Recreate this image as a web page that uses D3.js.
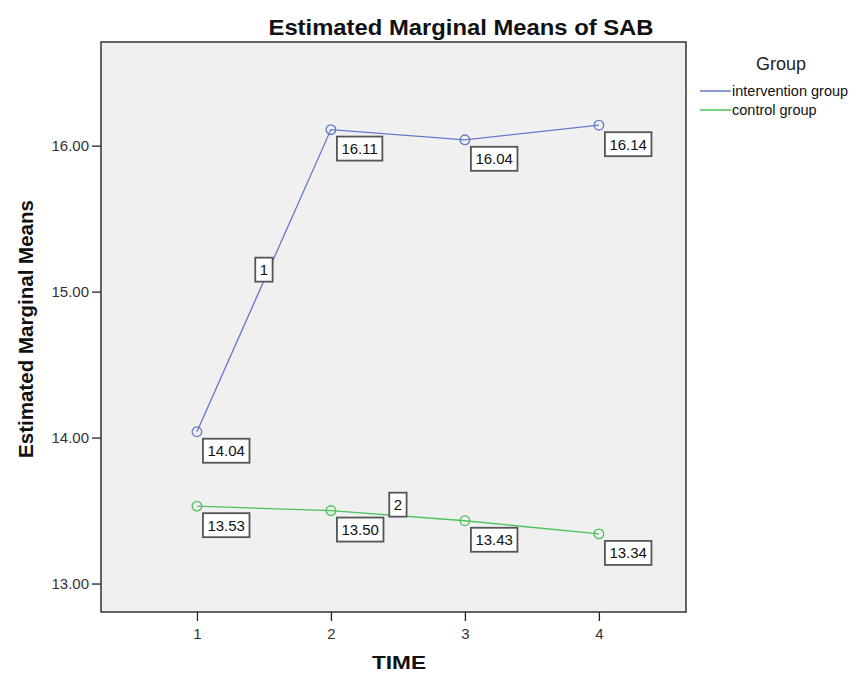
<!DOCTYPE html>
<html><head><meta charset="utf-8">
<script src="https://cdn.jsdelivr.net/npm/d3@7"></script>
<style>body{margin:0;background:#fff;} text{font-family:"Liberation Sans",Arial,sans-serif;}</style>
</head><body>
<svg id="c" width="865" height="674"></svg>
<script>
const times = [1, 2, 3, 4];
const yTicks = [13, 14, 15, 16];
const groups = ["intervention group", "control group"];
const intervention = [14.04, 16.11, 16.04, 16.14];
const control = [13.53, 13.50, 13.43, 13.34];
const colors = ["#6478c8", "#4cc25a"];

const svg = d3.select("#c");
const L = 101, R = 686, T = 42, B = 612;
const x = d3.scaleLinear().domain([0.284, 4.65]).range([L, R]);
const y = d3.scaleLinear().domain([12.805, 16.71]).range([B, T]);

svg.append("rect").attr("x", L).attr("y", T).attr("width", R - L).attr("height", B - T)
  .attr("fill", "#f0f0f0").attr("stroke", "#333").attr("stroke-width", 1.5);

// axes
const ya = svg.append("g").attr("transform", `translate(${L},0)`)
  .call(d3.axisLeft(y).tickValues(yTicks).tickFormat(d3.format(".2f")).tickSize(9).tickSizeOuter(0));
ya.select(".domain").remove();
ya.selectAll("line").attr("stroke", "#222").attr("stroke-width", 1.3);
ya.selectAll("text").attr("font-size", 15).attr("fill", "#333").attr("font-family", "Liberation Sans, Arial, sans-serif");

const xa = svg.append("g").attr("transform", `translate(0,${B})`)
  .call(d3.axisBottom(x).tickValues(times).tickFormat(d3.format("d")).tickSize(9).tickSizeOuter(0));
xa.select(".domain").remove();
xa.selectAll("line").attr("stroke", "#222").attr("stroke-width", 1.3);
xa.selectAll("text").attr("font-size", 15).attr("fill", "#333").attr("dy", "1.0em").attr("font-family", "Liberation Sans, Arial, sans-serif");

// titles
svg.append("text").attr("x", 461).attr("y", 35).attr("text-anchor", "middle")
  .attr("font-size", 22).attr("font-weight", "bold").attr("fill", "#111")
  .attr("textLength", 385).attr("lengthAdjust", "spacingAndGlyphs").text("Estimated Marginal Means of SAB");
svg.append("text").attr("transform", "translate(33,329) rotate(-90)").attr("text-anchor", "middle")
  .attr("font-size", 19.5).attr("font-weight", "bold").attr("fill", "#111")
  .attr("textLength", 258).attr("lengthAdjust", "spacingAndGlyphs").text("Estimated Marginal Means");
svg.append("text").attr("x", 399).attr("y", 669).attr("text-anchor", "middle")
  .attr("font-size", 18).attr("font-weight", "bold").attr("fill", "#111")
  .attr("textLength", 54).attr("lengthAdjust", "spacingAndGlyphs").text("TIME");

const series = [intervention, control];
const line = d3.line().x((d, i) => x(times[i])).y(d => y(d));

function box(cx, cy, txt, anchorLeft) {
  const g = svg.append("g");
  const t = g.append("text").attr("font-size", 15).attr("fill", "#111").text(txt);
  const w = t.node().getComputedTextLength();
  const pw = w + 9, ph = 24;
  const bx = anchorLeft ? cx : cx - pw / 2, by = anchorLeft ? cy : cy - ph / 2;
  g.insert("rect", "text").attr("x", bx).attr("y", by).attr("width", pw).attr("height", ph)
    .attr("fill", "#fff").attr("stroke", "#555").attr("stroke-width", 1.8);
  t.attr("x", bx + 4.5).attr("y", by + 17.5);
}

series.forEach((s, k) => {
  svg.append("path").datum(s).attr("d", line).attr("fill", "none")
    .attr("stroke", colors[k]).attr("stroke-width", 1.3);
  svg.selectAll(null).data(s).enter().append("circle")
    .attr("cx", (d, i) => x(times[i])).attr("cy", d => y(d)).attr("r", 4.8)
    .attr("fill", "none").attr("stroke", colors[k]).attr("stroke-width", 1.3);
});
series.forEach((s, k) => {
  s.forEach((d, i) => box(x(times[i]) + 6, y(d) + 7, d.toFixed(2), true));
});
// series id labels
box(x(1.5), (y(intervention[0]) + y(intervention[1])) / 2 - 11, "1", false);
box(x(2.5), (y(control[1]) + y(control[2])) / 2 - 11, "2", false);

// legend
svg.append("text").attr("x", 781).attr("y", 70).attr("text-anchor", "middle")
  .attr("font-size", 18).attr("fill", "#222").text("Group");
groups.forEach((g, k) => {
  const ly = 91 + k * 19;
  svg.append("line").attr("x1", 700).attr("x2", 731).attr("y1", ly).attr("y2", ly)
    .attr("stroke", colors[k]).attr("stroke-width", 1.5);
  svg.append("text").attr("x", 732).attr("y", ly + 5).attr("font-size", 14.5).attr("fill", "#111").text(g);
});
</script>
</body></html>
